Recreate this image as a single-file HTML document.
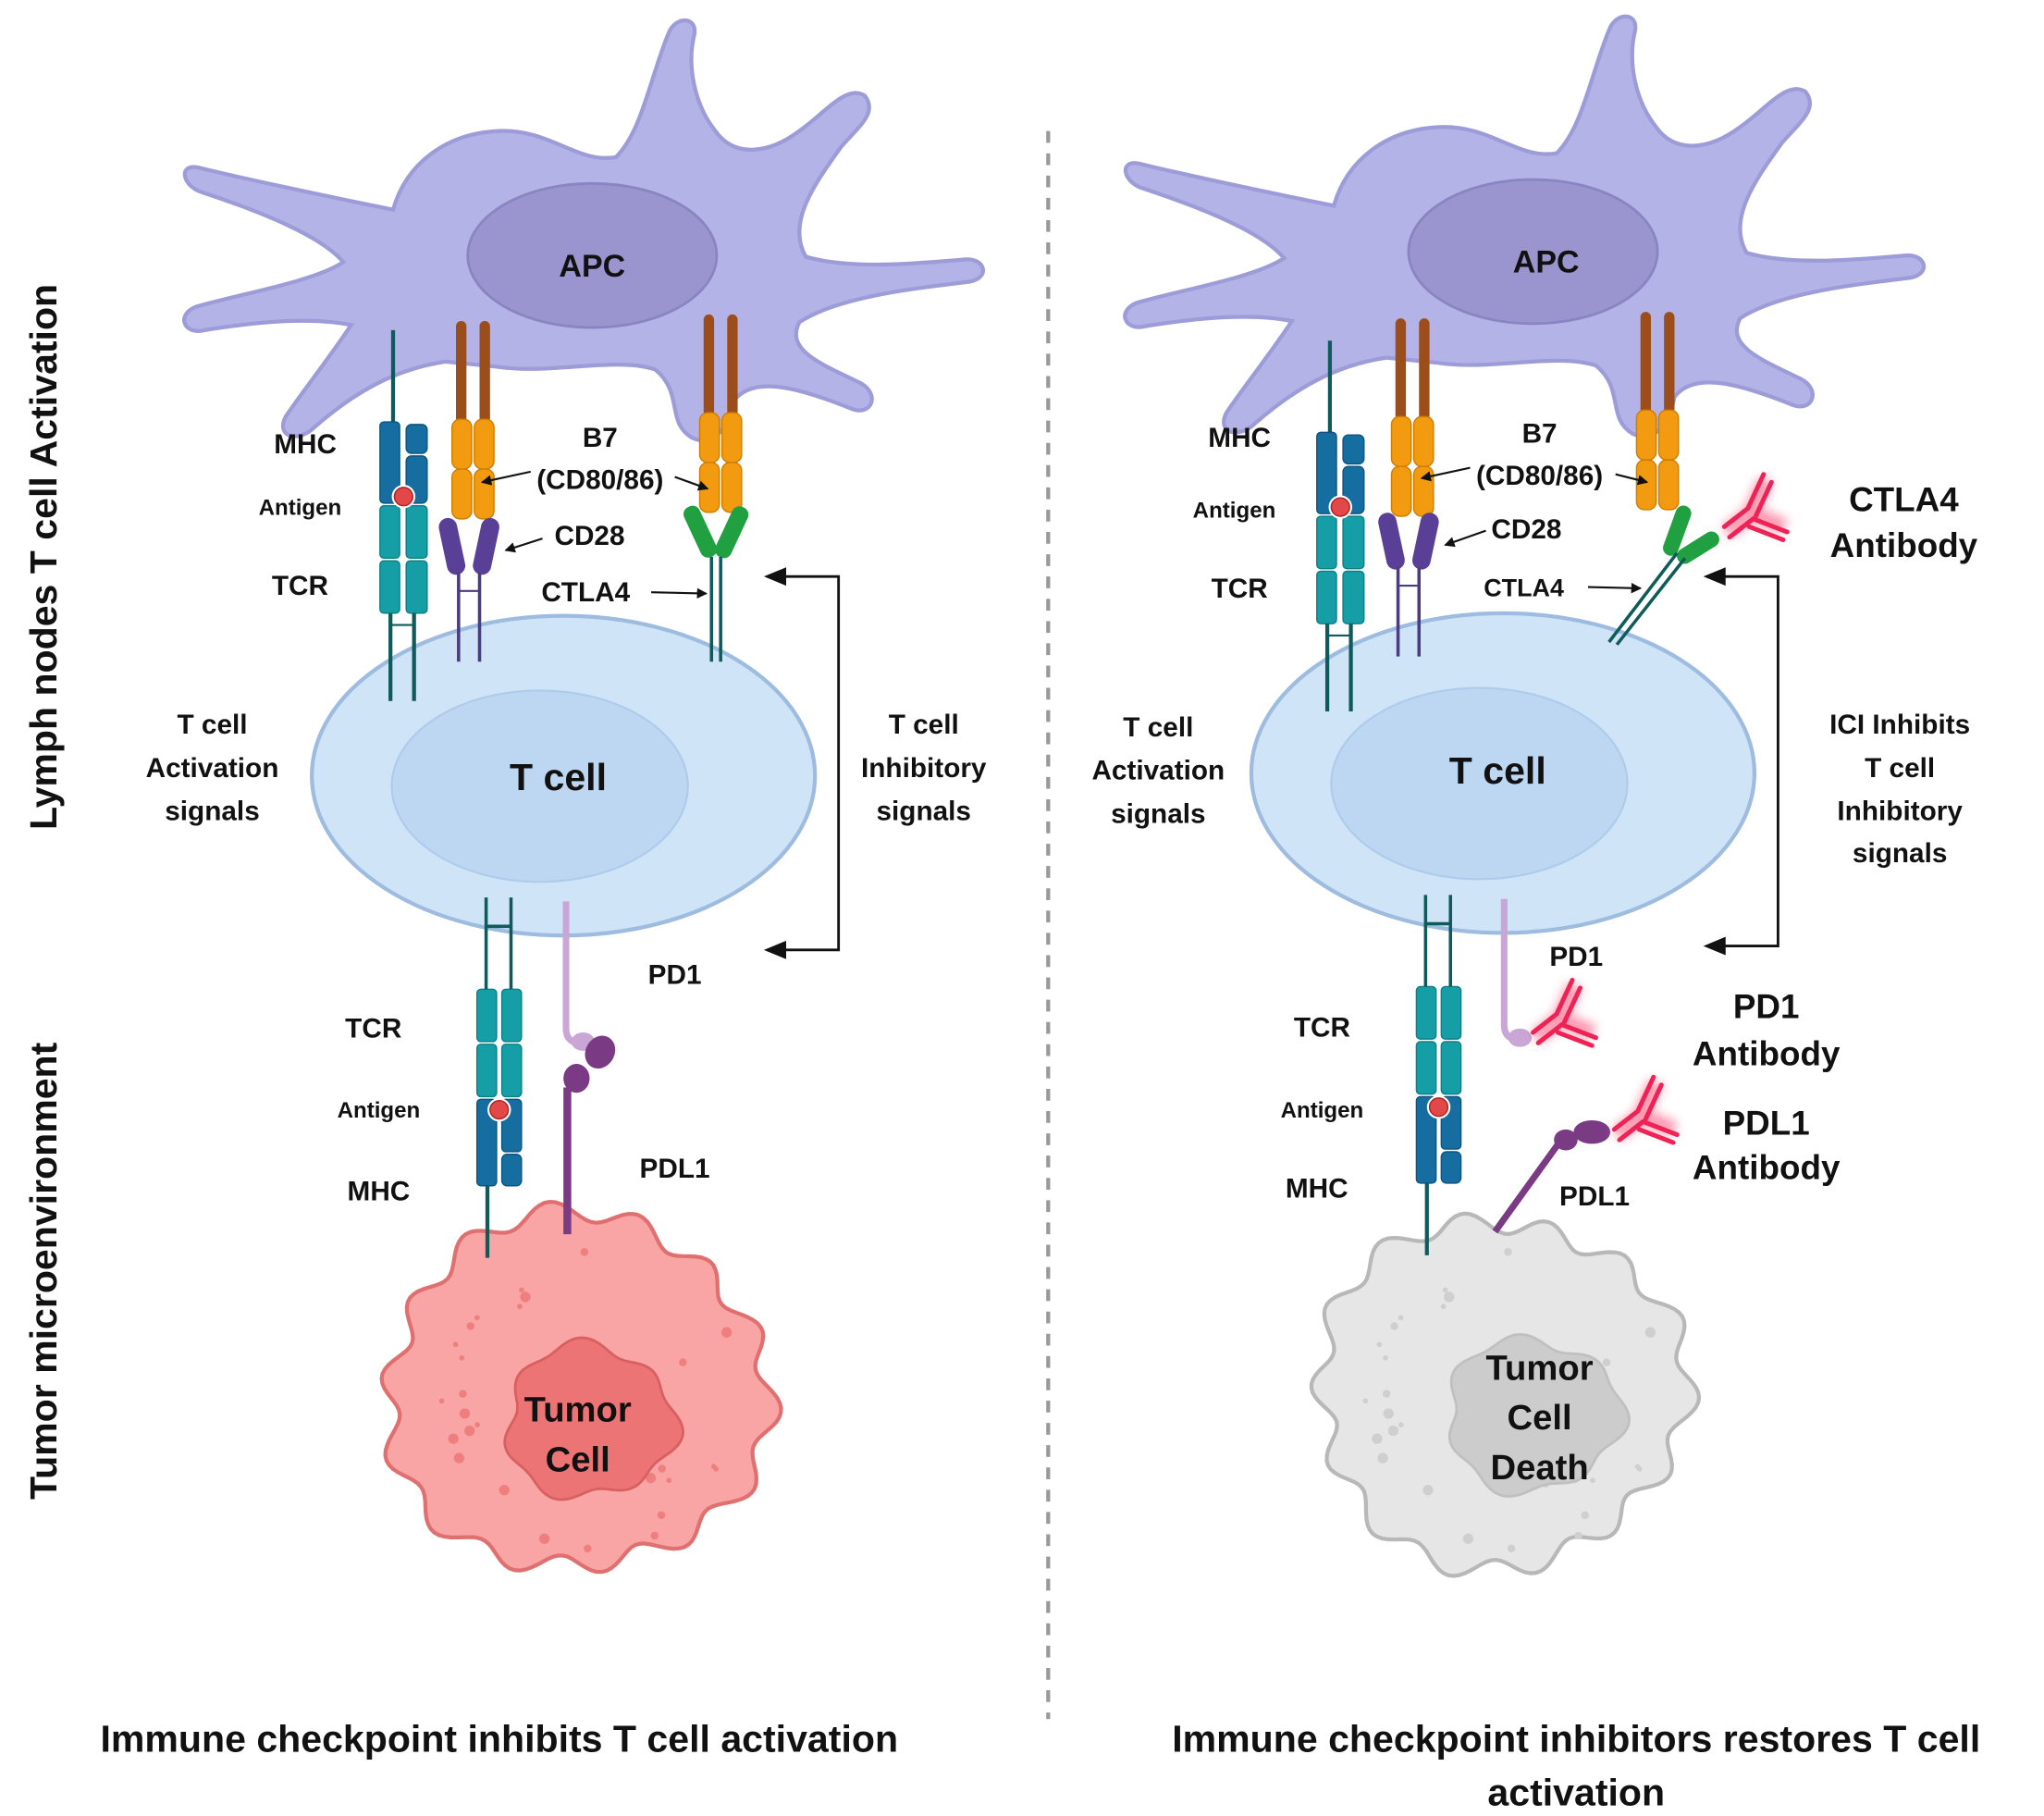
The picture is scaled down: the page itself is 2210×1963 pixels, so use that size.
<!DOCTYPE html>
<html><head><meta charset="utf-8"><style>
html,body{margin:0;padding:0;background:#fff}
svg{display:block}
text{font-family:"Liberation Sans",sans-serif;font-weight:bold;fill:#111;text-anchor:middle}
</style></head><body>
<svg width="2210" height="1963" viewBox="0 0 1560 1386" preserveAspectRatio="none" xmlns="http://www.w3.org/2000/svg">
<defs>
<filter id="glow" x="-50%" y="-50%" width="200%" height="200%"><feGaussianBlur stdDeviation="4"/></filter>
<marker id="ah" markerWidth="8" markerHeight="8" refX="7" refY="4" orient="auto" markerUnits="userSpaceOnUse"><path d="M0,0 L8,4 L0,8 z" fill="#111"/></marker>
<g id="apc">
<path d="M300,160 C250,150 180,135 152,128 C136,124 138,142 155,147 C200,162 245,180 262,200 C240,215 180,225 150,234 C134,240 140,256 156,252 C200,245 238,242 268,248 C250,275 230,300 218,318 C210,334 228,338 240,326 C270,300 300,282 340,276 L380,280 C420,286 470,272 500,282 C522,300 508,322 528,334 C545,342 556,326 560,306 C575,286 610,296 650,312 C666,318 672,300 656,292 C622,276 600,266 610,246 C640,226 700,220 740,215 C756,212 752,197 737,198 C700,201 650,206 615,196 C600,170 622,140 642,112 C656,96 670,86 660,73 C646,64 630,86 610,100 C586,118 560,120 546,100 C530,80 524,50 530,26 C532,12 515,12 510,26 C496,60 490,100 470,120 C440,125 420,98 380,100 C340,102 310,125 300,160 Z" fill="#b4b3e7" stroke="#9d9bd8" stroke-width="3"/>
<ellipse cx="452" cy="195" rx="95" ry="55" fill="#9b95cf" stroke="#8a84c2" stroke-width="2"/>
</g>
<g id="tcell">
<ellipse cx="430" cy="592" rx="192" ry="122" fill="#d0e4f8" stroke="#9dbce0" stroke-width="3"/>
<ellipse cx="412" cy="600" rx="113" ry="73" fill="#bdd7f2" stroke="#aecbec" stroke-width="1.5"/>
</g>
<g id="mhctcr">
<line x1="0" y1="-70" x2="0" y2="0" stroke="#0f5a5a" stroke-width="3"/>
<rect x="-10" y="0" width="15" height="62" rx="3" fill="#166ea0" stroke="#0d5580"/>
<rect x="10" y="2" width="16" height="22" rx="4" fill="#166ea0" stroke="#0d5580"/>
<rect x="10" y="26" width="16" height="36" rx="4" fill="#166ea0" stroke="#0d5580"/>
<rect x="-10" y="64" width="15" height="40" rx="3" fill="#169ea6" stroke="#0d7f86"/>
<rect x="10" y="64" width="16" height="40" rx="3" fill="#169ea6" stroke="#0d7f86"/>
<rect x="-10" y="106" width="15" height="40" rx="3" fill="#169ea6" stroke="#0d7f86"/>
<rect x="10" y="106" width="16" height="40" rx="3" fill="#169ea6" stroke="#0d7f86"/>
<circle cx="8" cy="57" r="9" fill="#fff"/><circle cx="8" cy="57" r="7" fill="#e24848" stroke="#b02020"/>
<line x1="-2" y1="146" x2="-2" y2="213" stroke="#0f5a5a" stroke-width="3"/>
<line x1="16" y1="146" x2="16" y2="213" stroke="#0f5a5a" stroke-width="3"/>
<line x1="-2" y1="155" x2="16" y2="155" stroke="#0f5a5a" stroke-width="1.5"/>
</g>
<g id="b7">
<rect x="-4" y="0" width="8" height="78" rx="4" fill="#9c4e1a"/>
<rect x="14" y="0" width="8" height="78" rx="4" fill="#9c4e1a"/>
<rect x="-7" y="75" width="15" height="38" rx="6" fill="#f29a10" stroke="#d07c00"/>
<rect x="10" y="75" width="15" height="38" rx="6" fill="#f29a10" stroke="#d07c00"/>
<rect x="-7" y="113" width="15" height="38" rx="6" fill="#f29a10" stroke="#d07c00"/>
<rect x="10" y="113" width="15" height="38" rx="6" fill="#f29a10" stroke="#d07c00"/>
</g>
<g id="cd28">
<rect x="-14" y="0" width="14" height="44" rx="7" fill="#5a3f97" transform="rotate(-12 -7 22)"/>
<rect x="12" y="0" width="14" height="44" rx="7" fill="#5a3f97" transform="rotate(12 19 22)"/>
<line x1="-2" y1="42" x2="-2" y2="110" stroke="#4b3b80" stroke-width="2.5"/>
<line x1="14" y1="42" x2="14" y2="110" stroke="#4b3b80" stroke-width="2.5"/>
<line x1="-2" y1="56" x2="14" y2="56" stroke="#4b3b80" stroke-width="1.5"/>
</g>
<g id="ab">
<g filter="url(#glow)" stroke="#ff7a9a" stroke-width="12" opacity="0.8" fill="none">
<path d="M0,0 L18,-14 M18,-14 L30,-40 M18,-14 L44,-4"/></g>
<g stroke="#ee2255" stroke-width="3.5" fill="none" stroke-linecap="round">
<path d="M-2,-4 L16,-18 M2,4 L20,-10"/>
<path d="M16,-18 L28,-44 M22,-12 L34,-38"/>
<path d="M20,-10 L46,0 M17,-4 L43,6"/>
</g>
</g>
</defs>

<line x1="800" y1="100" x2="800" y2="1312" stroke="#999" stroke-width="3" stroke-dasharray="9,8"/>

<!-- LEFT PANEL -->
<use href="#apc"/>
<use href="#tcell"/>
<use href="#mhctcr" x="300" y="322"/>
<use href="#b7" x="352" y="245"/>
<use href="#cd28" x="352" y="395"/>
<use href="#b7" x="541" y="240"/>
<rect x="528" y="385" width="13" height="42" rx="6" fill="#20a040" transform="rotate(-25 534 406)"/>
<rect x="552" y="385" width="13" height="42" rx="6" fill="#20a040" transform="rotate(25 558 406)"/>
<path d="M543,425 L543,505 M550,425 L550,505" stroke="#0f5a5a" stroke-width="2.5"/>
<path d="M598,440 L640,440 L640,725 L598,725" fill="none" stroke="#111" stroke-width="2"/>
<path d="M583,440 L600,433 L600,447 Z M583,725 L600,718 L600,732 Z" fill="#111"/>
<path id="tumorL" fill="#f9a5a5" stroke="#e07070" stroke-width="3"/>
<g id="dotsL" fill="#ef7f7f"></g>
<path id="tnucL" fill="#ec7474" stroke="#d86060" stroke-width="2"/>
<g transform="translate(371 755)">
<rect x="-7" y="0" width="15" height="40" rx="3" fill="#169ea6" stroke="#0d7f86"/>
<rect x="12" y="0" width="15" height="40" rx="3" fill="#169ea6" stroke="#0d7f86"/>
<rect x="-7" y="42" width="15" height="40" rx="3" fill="#169ea6" stroke="#0d7f86"/>
<rect x="12" y="42" width="15" height="40" rx="3" fill="#169ea6" stroke="#0d7f86"/>
<rect x="-7" y="84" width="15" height="66" rx="3" fill="#166ea0" stroke="#0d5580"/>
<rect x="12" y="84" width="15" height="40" rx="3" fill="#166ea0" stroke="#0d5580"/>
<rect x="12" y="126" width="15" height="24" rx="4" fill="#166ea0" stroke="#0d5580"/>
<circle cx="10" cy="92" r="9" fill="#fff"/><circle cx="10" cy="92" r="7" fill="#e24848" stroke="#b02020"/>
<path d="M0,0 L0,-70 M19,0 L19,-70 M0,-48 L19,-48" stroke="#0f5a5a" stroke-width="2.5"/>
<line x1="1" y1="150" x2="1" y2="205" stroke="#0f5a5a" stroke-width="3"/>
</g>
<path d="M432,688 L432,785 Q432,798 448,796" fill="none" stroke="#c9a6d6" stroke-width="5"/>
<ellipse cx="445" cy="795" rx="9" ry="7" fill="#c9a6d6"/>
<path d="M433,942 L433,830" stroke="#7a3a84" stroke-width="6"/>
<ellipse cx="440" cy="823" rx="10" ry="11" fill="#7a3a84"/>
<ellipse cx="458" cy="803" rx="11" ry="13" fill="#7a3a84" transform="rotate(30 458 803)"/>

<!-- RIGHT PANEL -->
<use href="#apc" x="718" y="-3"/>
<use href="#tcell" x="717" y="-2"/>
<use href="#mhctcr" x="1015" y="330"/>
<use href="#b7" x="1069" y="243"/>
<use href="#cd28" x="1069" y="391"/>
<use href="#b7" x="1256" y="238"/>
<rect x="1274" y="385" width="12" height="40" rx="6" fill="#20a040" transform="rotate(20 1280 405)"/>
<rect x="1290" y="400" width="12" height="36" rx="6" fill="#20a040" transform="rotate(58 1296 418)"/>
<path d="M1228,490 L1280,422 M1234,492 L1286,426" stroke="#0f5a5a" stroke-width="2.5"/>
<use href="#ab" x="1318" y="406"/>
<path d="M1316,440 L1357,440 L1357,722 L1316,722" fill="none" stroke="#111" stroke-width="2"/>
<path d="M1300,440 L1317,433 L1317,447 Z M1300,722 L1317,715 L1317,729 Z" fill="#111"/>
<path id="tumorR" fill="#e6e6e6" stroke="#b8b8b8" stroke-width="3"/>
<g id="dotsR" fill="#cfcfcf"></g>
<path id="tnucR" fill="#cccccc" stroke="#c0c0c0" stroke-width="2"/>
<g transform="translate(1088 753)">
<rect x="-7" y="0" width="15" height="40" rx="3" fill="#169ea6" stroke="#0d7f86"/>
<rect x="12" y="0" width="15" height="40" rx="3" fill="#169ea6" stroke="#0d7f86"/>
<rect x="-7" y="42" width="15" height="40" rx="3" fill="#169ea6" stroke="#0d7f86"/>
<rect x="12" y="42" width="15" height="40" rx="3" fill="#169ea6" stroke="#0d7f86"/>
<rect x="-7" y="84" width="15" height="66" rx="3" fill="#166ea0" stroke="#0d5580"/>
<rect x="12" y="84" width="15" height="40" rx="3" fill="#166ea0" stroke="#0d5580"/>
<rect x="12" y="126" width="15" height="24" rx="4" fill="#166ea0" stroke="#0d5580"/>
<circle cx="10" cy="92" r="9" fill="#fff"/><circle cx="10" cy="92" r="7" fill="#e24848" stroke="#b02020"/>
<path d="M0,0 L0,-70 M19,0 L19,-70 M0,-48 L19,-48" stroke="#0f5a5a" stroke-width="2.5"/>
<line x1="1" y1="150" x2="1" y2="205" stroke="#0f5a5a" stroke-width="3"/>
</g>
<path d="M1148,686 L1148,782 Q1148,795 1162,793" fill="none" stroke="#c9a6d6" stroke-width="5"/>
<ellipse cx="1160" cy="792" rx="9" ry="7" fill="#c9a6d6"/>
<use href="#ab" x="1172" y="792"/>
<path d="M1141,940 L1190,872" stroke="#7a3a84" stroke-width="5"/>
<ellipse cx="1195" cy="870" rx="9" ry="8" fill="#7a3a84"/>
<ellipse cx="1215" cy="864" rx="14" ry="9" fill="#7a3a84"/>
<use href="#ab" x="1234" y="866"/>

<g stroke="#111" stroke-width="1.5" fill="none" marker-end="url(#ah)">
<line x1="405" y1="360" x2="368" y2="368"/>
<line x1="515" y1="364" x2="540" y2="373"/>
<line x1="414" y1="411" x2="386" y2="420"/>
<line x1="497" y1="452" x2="539" y2="453"/>
<line x1="1122" y1="357" x2="1085" y2="365"/>
<line x1="1233" y1="362" x2="1257" y2="368"/>
<line x1="1134" y1="405" x2="1103" y2="416"/>
<line x1="1212" y1="448" x2="1252" y2="449"/>
</g>

<text x="452" y="211" font-size="24">APC</text>
<text x="233" y="346" font-size="21">MHC</text>
<text x="229" y="393" font-size="17">Antigen</text>
<text x="229" y="454" font-size="21">TCR</text>
<text x="458" y="341" font-size="21">B7</text>
<text x="458" y="373" font-size="21">(CD80/86)</text>
<text x="450" y="416" font-size="21">CD28</text>
<text x="447" y="459" font-size="21">CTLA4</text>
<text x="162" y="560" font-size="21">T cell</text>
<text x="162" y="593" font-size="21">Activation</text>
<text x="162" y="626" font-size="21">signals</text>
<text x="705" y="560" font-size="21">T cell</text>
<text x="705" y="593" font-size="21">Inhibitory</text>
<text x="705" y="626" font-size="21">signals</text>
<text x="426" y="603" font-size="29">T cell</text>
<text x="515" y="751" font-size="21">PD1</text>
<text x="285" y="792" font-size="21">TCR</text>
<text x="289" y="853" font-size="17">Antigen</text>
<text x="289" y="916" font-size="21">MHC</text>
<text x="515" y="899" font-size="21">PDL1</text>
<text x="441" y="1085" font-size="27">Tumor</text>
<text x="441" y="1123" font-size="27">Cell</text>
<text x="1180" y="208" font-size="24">APC</text>
<text x="946" y="341" font-size="21">MHC</text>
<text x="942" y="395" font-size="17">Antigen</text>
<text x="946" y="456" font-size="21">TCR</text>
<text x="1175" y="338" font-size="21">B7</text>
<text x="1175" y="370" font-size="21">(CD80/86)</text>
<text x="1165" y="411" font-size="21">CD28</text>
<text x="1163" y="455" font-size="19">CTLA4</text>
<text x="1453" y="390" font-size="26">CTLA4</text>
<text x="1453" y="425" font-size="26">Antibody</text>
<text x="884" y="562" font-size="21">T cell</text>
<text x="884" y="595" font-size="21">Activation</text>
<text x="884" y="628" font-size="21">signals</text>
<text x="1450" y="560" font-size="21">ICI Inhibits</text>
<text x="1450" y="593" font-size="21">T cell</text>
<text x="1450" y="626" font-size="21">Inhibitory</text>
<text x="1450" y="658" font-size="21">signals</text>
<text x="1143" y="598" font-size="29">T cell</text>
<text x="1203" y="737" font-size="21">PD1</text>
<text x="1348" y="777" font-size="26">PD1</text>
<text x="1348" y="813" font-size="26">Antibody</text>
<text x="1009" y="791" font-size="21">TCR</text>
<text x="1009" y="853" font-size="17">Antigen</text>
<text x="1005" y="914" font-size="21">MHC</text>
<text x="1217" y="920" font-size="21">PDL1</text>
<text x="1348" y="866" font-size="26">PDL1</text>
<text x="1348" y="900" font-size="26">Antibody</text>
<text x="1175" y="1053" font-size="27">Tumor</text>
<text x="1175" y="1091" font-size="27">Cell</text>
<text x="1175" y="1129" font-size="27">Death</text>
<text x="0" y="0" font-size="29" transform="translate(43 425) rotate(-90)">Lymph nodes T cell Activation</text>
<text x="0" y="0" font-size="29" transform="translate(43 970) rotate(-90)">Tumor microenvironment</text>
<text x="381" y="1337" font-size="29">Immune checkpoint inhibits T cell activation</text>
<text x="1203" y="1337" font-size="29">Immune checkpoint inhibitors restores T cell</text>
<text x="1203" y="1378" font-size="29">activation</text>
</svg>
<script>
function blob(cx,cy,rx,ry,amp,n,ph,amp2){var d="";for(var i=0;i<=240;i++){var a=i/240*Math.PI*2;var k=1+(amp*Math.sin(a*n+ph)+amp2*Math.sin(a*3+ph*2))/rx;var x=cx+rx*k*Math.cos(a),y=cy+ry*k*Math.sin(a);d+=(i?"L":"M")+x.toFixed(1)+","+y.toFixed(1);}return d+"Z";}
document.getElementById("tumorL").setAttribute("d",blob(440,1063,145,135,8,14,0.3,5));
document.getElementById("tumorR").setAttribute("d",blob(1145,1063,140,132,8,14,1.1,5));
document.getElementById("tnucL").setAttribute("d",blob(450,1085,64,58,4,7,0.5,4));
document.getElementById("tnucR").setAttribute("d",blob(1170,1080,66,58,4,7,0.9,4));
function dots(id,cx,cy){var g=document.getElementById(id),s=7;for(var i=0;i<28;i++){s=(s*9301+49297)%233280;var a=s/233280*6.283;s=(s*9301+49297)%233280;var r=75+s/233280*50;var c=document.createElementNS("http://www.w3.org/2000/svg","circle");c.setAttribute("cx",cx+r*Math.cos(a));c.setAttribute("cy",cy+r*Math.sin(a));c.setAttribute("r",2+(i%3));g.appendChild(c);}}
dots("dotsL",440,1063);dots("dotsR",1145,1063);
</script>
</body></html>
